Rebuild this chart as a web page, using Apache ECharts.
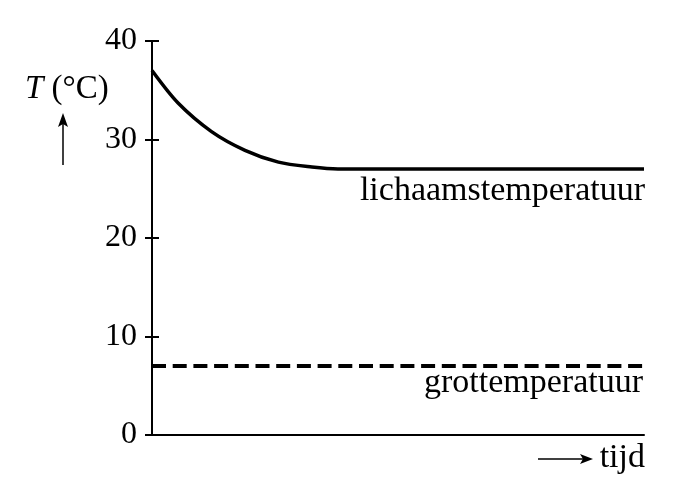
<!DOCTYPE html>
<html><head><meta charset="utf-8">
<script src="https://cdn.jsdelivr.net/npm/echarts@6/dist/echarts.min.js"></script>
<style>html,body{margin:0;padding:0;background:#fff}#c{width:673px;height:501px}</style>
</head><body><div id="c"></div>
<script>
var yTicks = [0, 10, 20, 30, 40];
var bodyTime = [0, 5.3, 12.1, 18.9, 25.7, 32.5, 37.8, 43.3, 100];
var bodyTemp = [37, 33.7, 30.8, 28.9, 27.7, 27.2, 27.0, 27.0, 27.0];
var caveTime = [0, 100];
var caveTemp = [7, 7];
var labels = { body: 'lichaamstemperatuur', cave: 'grottemperatuur', x: 'tijd' };

var FONT = '"Liberation Serif", "Times New Roman", serif';
var chart = echarts.init(document.getElementById('c'));
chart.setOption({
  animation: false,
  grid: { left: 152, right: 29, top: 41, bottom: 66 },
  xAxis: {
    type: 'value', min: 0, max: 100,
    axisLine: { show: true, lineStyle: { color: '#000', width: 2 } },
    axisTick: { show: false }, axisLabel: { show: false }, splitLine: { show: false }
  },
  yAxis: [{
    type: 'value', min: yTicks[0], max: yTicks[yTicks.length - 1], interval: 10,
    axisLine: { show: true, lineStyle: { color: '#000', width: 2 } },
    axisTick: { show: true, length: 7, lineStyle: { color: '#000', width: 2 } },
    axisLabel: { margin: 15, color: '#000', fontSize: 32, fontFamily: FONT },
    splitLine: { show: false }
  }, {
    type: 'value', min: yTicks[0], max: yTicks[yTicks.length - 1], interval: 10, position: 'left', offset: 0,
    axisLine: { show: false },
    axisTick: { show: true, inside: true, length: 7, lineStyle: { color: '#000', width: 2 } },
    axisLabel: { show: false }, splitLine: { show: false }
  }],
  series: [{
    type: 'line', smooth: 0.3, showSymbol: false,
    data: bodyTime.map(function (t, i) { return [t, bodyTemp[i]]; }),
    lineStyle: { color: '#000', width: 3.5 }
  }, {
    type: 'line', showSymbol: false,
    data: caveTime.map(function (t, i) { return [t, caveTemp[i]]; }),
    lineStyle: { color: '#000', width: 4, type: [14, 6.7] }
  }],
  graphic: [
    { type: 'text', right: 28, top: 174, style: { text: labels.body, font: '34px ' + FONT, fill: '#000' } },
    { type: 'text', right: 30, top: 366, style: { text: labels.cave, font: '34px ' + FONT, fill: '#000' } },
    { type: 'text', right: 28, top: 441, style: { text: labels.x, font: '34px ' + FONT, fill: '#000' } },
    { type: 'line', shape: { x1: 538, y1: 459, x2: 584, y2: 459 }, style: { stroke: '#000', lineWidth: 1.5 } },
    { type: 'polygon', shape: { points: [[593, 459], [580, 454], [583, 459], [580, 464]] }, style: { fill: '#000' } },
    { type: 'text', left: 25, top: 73, style: {
      text: '{i|T} (°C)', font: '33px ' + FONT, fill: '#000',
      rich: { i: { fontStyle: 'italic', fontSize: 33, fontFamily: FONT } }
    } },
    { type: 'line', shape: { x1: 63, y1: 122, x2: 63, y2: 165 }, style: { stroke: '#000', lineWidth: 1.5 } },
    { type: 'polygon', shape: { points: [[63, 113], [58, 127], [63, 124], [68, 127]] }, style: { fill: '#000' } }
  ]
});
</script></body></html>
